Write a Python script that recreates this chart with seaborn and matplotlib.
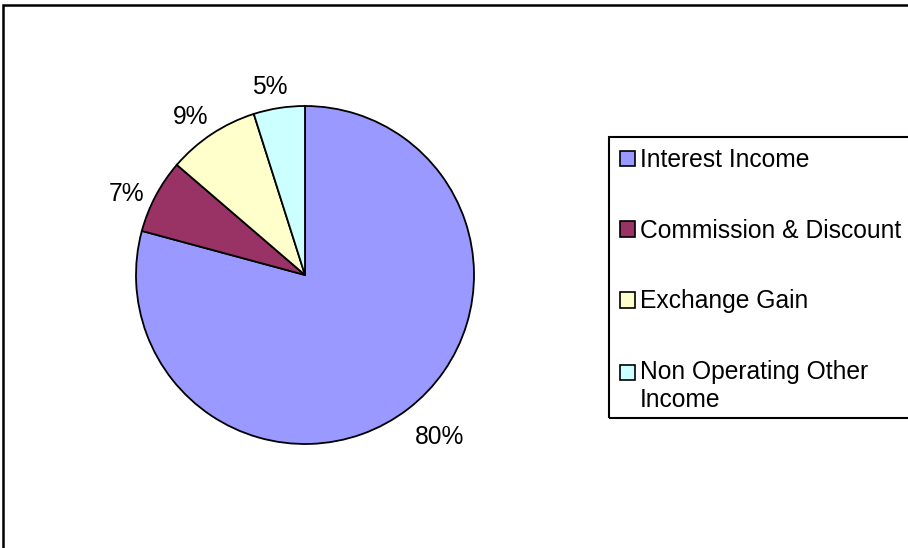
import numpy as np
import matplotlib
matplotlib.use("Agg")
import matplotlib.pyplot as plt
import matplotlib.patches as mpatches
from matplotlib.legend_handler import HandlerPatch
import seaborn as sns

# ---- data ----
categories = ["Interest Income", "Commission & Discount", "Exchange Gain",
              "Non Operating Other\nIncome"]
shares = [79.2, 7.1, 8.8, 4.9]
pct_labels = ["80%", "7%", "9%", "5%"]
colors = ["#9999FF", "#993366", "#FFFFCC", "#CCFFFF"]

sns.set_theme(style="white")
plt.rcParams["font.family"] = ["Liberation Sans", "DejaVu Sans"]
plt.rcParams["text.color"] = "black"

FS = 17.7
W, H = 908, 548
fig = plt.figure(figsize=(W / 100, H / 100), dpi=100)
fig.patch.set_facecolor("white")

# pie axes: centre (305, 275) px, radius 169 px
R_px = 169
k = 1.5
side = 2 * R_px * k
cx, cy = 305, 275
ax = fig.add_axes([(cx - side / 2) / W, (H - cy - side / 2) / H, side / W, side / H])
wedges, _ = ax.pie(shares, colors=colors, startangle=90, counterclock=False,
                   radius=1.0,
                   wedgeprops=dict(edgecolor="black", linewidth=1.3))
ax.set_xlim(-k, k)
ax.set_ylim(-k, k)
ax.set_aspect("equal")
ax.axis("off")

fig.canvas.draw()
renderer = fig.canvas.get_renderer()
NUDGE = 2.5  # degrees, counter-clockwise shift of label placement
for w, lab in zip(wedges, pct_labels):
    ang = np.deg2rad((w.theta1 + w.theta2) / 2 + NUDGE)
    c, s = np.cos(ang), np.sin(ang)
    t = ax.text(0, 0, lab, ha="center", va="center", fontsize=FS, color="black")
    bb = t.get_window_extent(renderer)
    hw = bb.width / 2 / R_px
    hh = bb.height / 2 / R_px
    d = 1.065 + hw * abs(c) * 0.9 + hh * abs(s) * 1.15
    t.set_position((d * c + 3 / R_px, d * s - 4.5 / R_px))


def top_square(legend, orig_handle, xdescent, ydescent, width, height, fontsize):
    # square aligned with the first text line of a two-line label
    return mpatches.Rectangle((-xdescent, -ydescent + 0.58 * fontsize), width, height)


def plain_square(legend, orig_handle, xdescent, ydescent, width, height, fontsize):
    return mpatches.Rectangle((-xdescent, -ydescent), width, height)


# legend
handles = [mpatches.Patch(facecolor=col, edgecolor="black", linewidth=1.2)
           for col in colors]
hmap = {h: HandlerPatch(patch_func=(top_square if "\n" in lab else plain_square))
        for h, lab in zip(handles, categories)}
leg = fig.legend(handles, categories, loc="upper left",
                 bbox_to_anchor=(609 / W, 1 - 137 / H),
                 bbox_transform=fig.transFigure,
                 fontsize=FS, frameon=False, handler_map=hmap,
                 borderaxespad=0, borderpad=0.45, labelspacing=1.9,
                 handlelength=0.6, handleheight=0.6, handletextpad=0.22)
for t in leg.get_texts():
    t.set_color("black")
    t.set_linespacing(1.2)

# legend frame (right side runs past the image edge)
fig.patches.append(mpatches.Rectangle((609 / W, 1 - 418 / H), 0.5, (418 - 137) / H,
                                      transform=fig.transFigure, fill=False,
                                      edgecolor="black", linewidth=1.5,
                                      clip_on=False, zorder=5))

# chart border (right and bottom edges fall outside the image)
fig.patches.append(mpatches.Rectangle((3 / W, -0.2), 1.5, 1 - 5 / H + 0.2,
                                      transform=fig.transFigure, fill=False,
                                      edgecolor="black", linewidth=1.8,
                                      clip_on=False))

fig.savefig("out.png", dpi=100)
